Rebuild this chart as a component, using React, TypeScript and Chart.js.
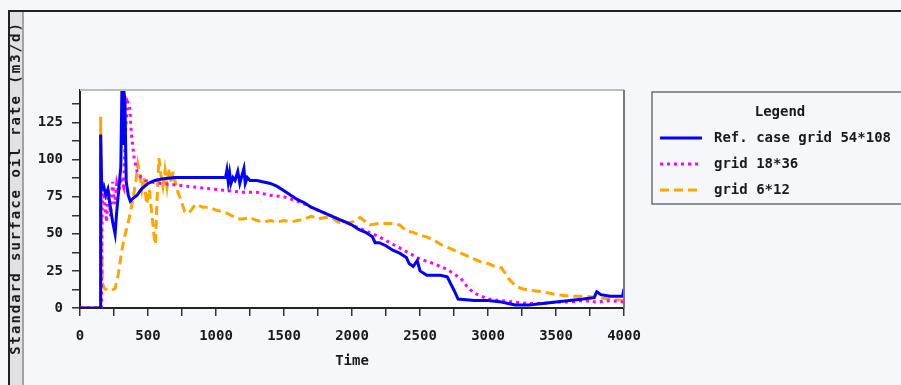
import React, { useEffect, useRef } from "react";
import { Chart, registerables } from "chart.js";

Chart.register(...registerables);

// ---- Data ----
const refTime = [0, 145, 150, 152, 160, 175, 190, 205, 220, 240, 258, 270, 285, 300, 308, 315, 322, 330, 340, 355, 370, 390, 420, 450, 500, 550, 600, 700, 800, 900, 1000, 1070, 1080, 1090, 1100, 1110, 1125, 1140, 1160, 1175, 1190, 1205, 1215, 1230, 1250, 1300, 1350, 1400, 1450, 1500, 1550, 1600, 1650, 1700, 1750, 1800, 1850, 1900, 1950, 2000, 2050, 2100, 2150, 2170, 2200, 2250, 2300, 2350, 2400, 2420, 2450, 2480, 2500, 2550, 2650, 2700, 2750, 2780, 2900, 3000, 3100, 3150, 3200, 3300, 3400, 3500, 3600, 3700, 3780, 3800, 3830, 3900, 3990, 4000];
const refRate = [0, 0, 0, 117, 80, 82, 76, 80, 70, 58, 50, 65, 80, 95, 147, 110, 147, 140, 85, 76, 72, 74, 76, 80, 84, 86, 87, 88, 88, 88, 88, 88, 93, 85, 91, 84, 88, 86, 92, 84, 89, 94, 84, 88, 86, 86, 85, 84, 82, 79, 76, 73, 71, 68, 66, 64, 62, 60, 58, 56, 53, 51, 48, 44, 44, 42, 39, 37, 34, 30, 28, 32, 25, 22, 22, 21, 12, 6, 5, 5, 4, 3, 2, 2, 3, 4, 5, 6, 7, 11, 9, 8, 8, 13];

const g18Time = [0, 158, 162, 168, 180, 195, 210, 225, 240, 255, 270, 285, 300, 320, 335, 350, 365, 380, 400, 420, 450, 480, 520, 600, 700, 800, 900, 1000, 1100, 1200, 1300, 1400, 1500, 1600, 1700, 1800, 1900, 2000, 2100, 2200, 2300, 2400, 2500, 2600, 2700, 2800, 2850, 2900, 2950, 3000, 3100, 3200, 3300, 3400, 3500, 3600, 3700, 3800, 3900, 4000];
const g18Rate = [0, 0, 60, 85, 72, 58, 80, 62, 85, 70, 84, 78, 88, 82, 120, 139, 136, 115, 100, 92, 88, 86, 85, 84, 83, 82, 81, 80, 79, 78, 78, 76, 75, 72, 68, 64, 60, 56, 52, 48, 43, 38, 33, 30, 26, 20, 14, 10, 8, 6, 5, 4, 3, 3, 4, 4, 5, 4, 5, 4];

const g6Time = [0, 148, 150, 152, 158, 165, 180, 205, 230, 257, 280, 300, 310, 330, 350, 370, 390, 410, 425, 440, 455, 470, 490, 510, 530, 545, 555, 565, 580, 595, 610, 625, 640, 655, 670, 685, 700, 720, 745, 770, 800, 850, 900, 950, 1000, 1050, 1080, 1120, 1160, 1200, 1250, 1300, 1350, 1400, 1450, 1500, 1550, 1600, 1650, 1700, 1750, 1800, 1850, 1900, 1950, 2000, 2060, 2130, 2200, 2300, 2350, 2400, 2450, 2500, 2550, 2600, 2650, 2700, 2750, 2800, 2850, 2900, 2950, 3000, 3050, 3100, 3150, 3200, 3250, 3300, 3400, 3500, 3600, 3700, 3800, 3900, 4000];
const g6Rate = [0, 0, 0, 129, 60, 17, 13, 12, 12, 13, 22, 34, 40, 49, 56, 64, 74, 85, 97, 90, 80, 88, 70, 80, 62, 48, 43, 70, 101, 90, 82, 93, 82, 94, 84, 92, 85, 78, 72, 65, 64, 70, 68, 68, 66, 65, 64, 62, 60, 60, 61, 59, 58, 59, 58, 59, 58, 59, 60, 62, 60, 61, 61, 58, 57, 58, 61, 56, 57, 57, 56, 52, 51, 49, 48, 46, 43, 41, 39, 37, 35, 33, 31, 30, 28, 27, 20, 15, 13, 12, 11, 9, 8, 8, 7, 6, 5];

const seriesLabels = ["Ref. case grid 54*108", "grid 18*36", "grid 6*12"];
const xTickValues = [0, 250, 500, 750, 1000, 1250, 1500, 1750, 2000, 2250, 2500, 2750, 3000, 3250, 3500, 3750, 4000];
const xLabelledTicks = [0, 500, 1000, 1500, 2000, 2500, 3000, 3500, 4000];
const yTickValues = [0, 12.5, 25, 37.5, 50, 62.5, 75, 87.5, 100, 112.5, 125, 137.5];
const yLabelledTicks = [0, 25, 50, 75, 100, 125];
const xTitle = "Time";
const yTitle = "Standard surface oil rate (m3/d)";
const legendTitle = "Legend";

const FONT = '"DejaVu Sans Mono", "Liberation Mono", monospace';

const toPoints = (xs: number[], ys: number[]) => xs.map((x, i) => ({ x, y: ys[i] }));

const framePlugin = {
  id: "framePlugin",
  beforeDraw(chart: any) {
    const { ctx, width, height, chartArea: a } = chart;
    ctx.save();
    ctx.fillStyle = "#f6f7fb";
    ctx.fillRect(0, 0, width, height);
    // left label strip
    ctx.fillStyle = "#e1e1e5";
    ctx.fillRect(9, 11, 14, height - 11);
    ctx.strokeStyle = "#8a8a8a";
    ctx.lineWidth = 1.5;
    ctx.beginPath();
    ctx.moveTo(23, 12);
    ctx.lineTo(23, height);
    ctx.stroke();
    ctx.strokeStyle = "#222";
    ctx.lineWidth = 2;
    ctx.beginPath();
    ctx.moveTo(8, 11);
    ctx.lineTo(width, 11);
    ctx.moveTo(9, 10);
    ctx.lineTo(9, height);
    ctx.stroke();
    // plot area
    ctx.fillStyle = "#ffffff";
    ctx.fillRect(a.left, a.top, a.right - a.left, a.bottom - a.top);
    ctx.restore();
  },
  afterDraw(chart: any) {
    const { ctx, chartArea: a } = chart;
    ctx.save();
    // plot top / right border
    ctx.strokeStyle = "#bdbdbd";
    ctx.lineWidth = 2;
    ctx.beginPath();
    ctx.moveTo(a.left, a.top);
    ctx.lineTo(a.right, a.top);
    ctx.stroke();
    ctx.strokeStyle = "#7a7a7a";
    ctx.beginPath();
    ctx.moveTo(a.right, a.top);
    ctx.lineTo(a.right, a.bottom);
    ctx.stroke();

    // y title in the strip
    ctx.save();
    ctx.translate(16, 188);
    ctx.rotate(-Math.PI / 2);
    ctx.font = `bold 14px ${FONT}`;
    try { (ctx as any).letterSpacing = "2px"; } catch (e) {}
    ctx.textAlign = "center";
    ctx.textBaseline = "middle";
    ctx.fillStyle = "#1a1a1a";
    ctx.fillText(yTitle, 0, 0);
    ctx.restore();

    // legend box
    ctx.strokeStyle = "#707070";
    ctx.lineWidth = 1.5;
    ctx.strokeRect(652, 92, 262, 112);
    ctx.font = `bold 14px ${FONT}`;
    ctx.fillStyle = "#1a1a1a";
    ctx.textAlign = "center";
    ctx.textBaseline = "middle";
    ctx.fillText(legendTitle, 780, 112);
    ctx.textAlign = "left";
    chart.data.datasets.forEach((ds: any, i: number) => {
      const y = 138 + i * 26;
      ctx.save();
      ctx.strokeStyle = ds.borderColor;
      ctx.lineWidth = 3;
      ctx.setLineDash(ds.borderDash || []);
      ctx.beginPath();
      ctx.moveTo(660, y);
      ctx.lineTo(702, y);
      ctx.stroke();
      ctx.restore();
      ctx.fillText(ds.label, 714, y);
    });
    ctx.restore();
  },
};

export default function App() {
  const canvasRef = useRef<HTMLCanvasElement | null>(null);

  useEffect(() => {
    if (!canvasRef.current) return;
    const tickFont = { family: FONT, size: 14, weight: "bold" as const };
    const chart = new Chart(canvasRef.current, {
      type: "line",
      data: {
        datasets: [
          {
            label: seriesLabels[0],
            data: toPoints(refTime, refRate),
            borderColor: "#0000ff",
            borderWidth: 3,
            pointRadius: 0,
            fill: false,
            tension: 0,
          },
          {
            label: seriesLabels[1],
            data: toPoints(g18Time, g18Rate),
            borderColor: "#ff00ff",
            borderWidth: 3,
            borderDash: [3, 4],
            pointRadius: 0,
            fill: false,
            tension: 0,
          },
          {
            label: seriesLabels[2],
            data: toPoints(g6Time, g6Rate),
            borderColor: "#ffa500",
            borderWidth: 3,
            borderDash: [9, 5],
            pointRadius: 0,
            fill: false,
            tension: 0,
          },
        ],
      },
      options: {
        responsive: false,
        animation: false,
        events: [],
        layout: { padding: { left: 0, right: 277, top: 90, bottom: 10 } },
        plugins: { legend: { display: false }, tooltip: { enabled: false } },
        scales: {
          x: {
            type: "linear",
            min: 0,
            max: 4000,
            afterBuildTicks: (s: any) => {
              s.ticks = xTickValues.map((v) => ({ value: v }));
            },
            afterFit: (s: any) => {
              s.height = 67;
            },
            grid: { drawOnChartArea: false, drawTicks: true, tickLength: 8, color: "#333", lineWidth: 1.5 },
            border: { display: true, color: "#222", width: 2 },
            ticks: {
              autoSkip: false,
              maxRotation: 0,
              padding: 12,
              color: "#1a1a1a",
              font: tickFont,
              callback: (v: any) => (xLabelledTicks.includes(Number(v)) ? String(v) : ""),
            },
            title: {
              display: true,
              text: xTitle,
              color: "#1a1a1a",
              font: tickFont,
              padding: { top: 0, bottom: 5 },
            },
          },
          y: {
            type: "linear",
            min: 0,
            max: 147,
            afterBuildTicks: (s: any) => {
              s.ticks = yTickValues.map((v) => ({ value: v }));
            },
            afterFit: (s: any) => {
              s.width = 80;
            },
            grid: { drawOnChartArea: false, drawTicks: true, tickLength: 8, color: "#333", lineWidth: 1.5 },
            border: { display: true, color: "#222", width: 2 },
            ticks: {
              autoSkip: false,
              padding: 9,
              color: "#1a1a1a",
              font: tickFont,
              callback: (v: any) => (yLabelledTicks.includes(Number(v)) ? String(v) : ""),
            },
          },
        },
      },
      plugins: [framePlugin],
    });
    return () => chart.destroy();
  }, []);

  return (
    <div style={{ position: "fixed", left: 0, top: 0, width: 901, height: 385 }}>
      <canvas ref={canvasRef} width={901} height={385} style={{ display: "block" }} />
    </div>
  );
}
